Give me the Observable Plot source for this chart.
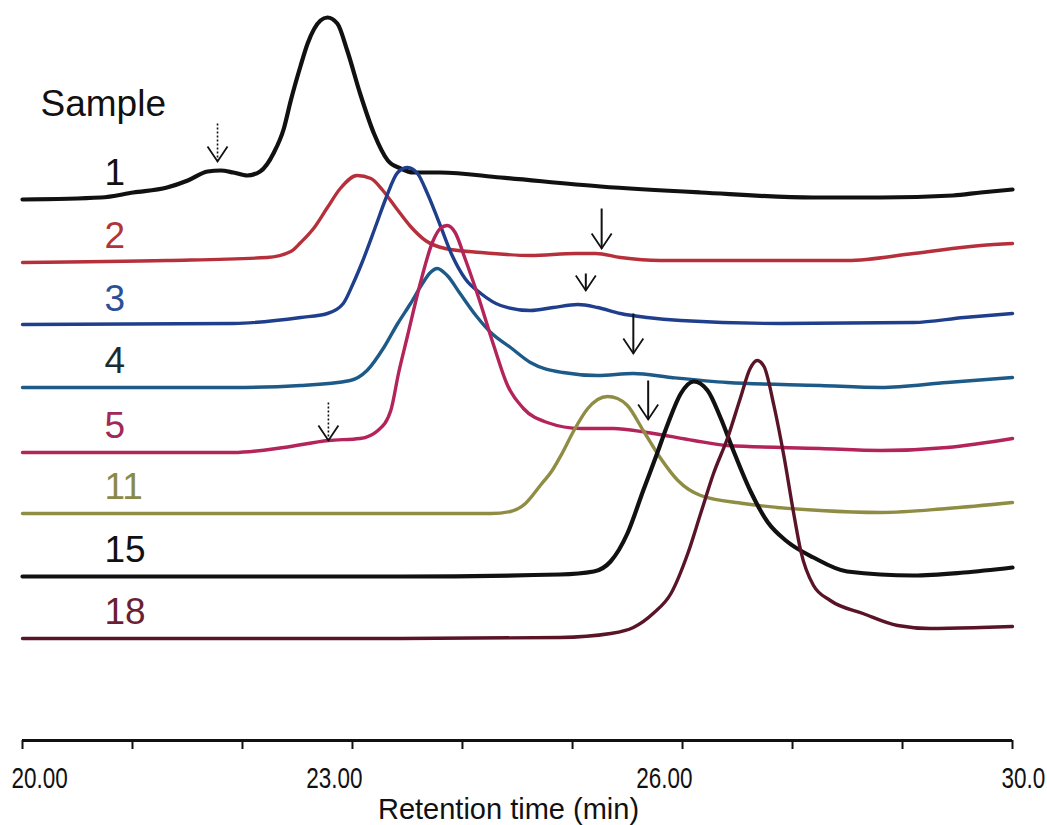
<!DOCTYPE html>
<html>
<head>
<meta charset="utf-8">
<script src="https://cdn.jsdelivr.net/npm/d3@7"></script>
<script src="https://cdn.jsdelivr.net/npm/@observablehq/plot@0.6"></script>
<style>
  body { margin: 0; background: #fff; }
  #chart svg { display: block; }
</style>
</head>
<body>
<div id="chart"></div>
<script>
// ---- Data (retention time in min, detector signal in arbitrary units) ----
const samples = ["1", "2", "3", "4", "5", "11", "15", "18"];
// vertical offset of each chromatogram (stacked display)
const offsets = [541, 478, 415, 353, 288, 227, 164, 102];
const traceColors = ["#111111", "#b5303a", "#1f3e8c", "#1d5a88", "#b3245a", "#8f8d44", "#111111", "#5a1428"];
const labelColors = ["#111111", "#b0353a", "#2c4f9a", "#1a2c33", "#a2285a", "#8a8a48", "#111111", "#6a1f35"];

const trace1 = [[20.00,0],[20.79,2],[21.12,7],[21.46,12],[21.67,19],[21.87,28],[22.00,29],[22.13,27],[22.27,24],[22.40,28],[22.54,47],[22.64,71],[22.71,99],[22.81,134],[22.88,156],[23.01,179],[23.08,182],[23.18,176],[23.28,149],[23.41,106],[23.55,66],[23.69,39],[23.82,31],[23.95,27],[24.22,27],[24.83,22],[25.84,13],[26.85,7],[27.99,2],[28.67,2],[29.40,4],[29.68,7],[30.00,10]];
const trace2 = [[20.00,0],[21.46,2],[22.47,5],[22.71,11],[22.81,20],[22.94,34],[23.08,55],[23.21,74],[23.38,87],[23.52,84],[23.64,72],[23.77,55],[23.92,36],[24.07,22],[24.27,14],[24.63,10],[25.13,7],[25.59,9],[25.79,9],[26.04,5],[26.44,2],[27.66,2],[28.33,2],[29.00,9],[29.68,17],[30.00,19]];
const trace3 = [[20.00,1],[22.13,2],[22.81,8],[23.08,12],[23.24,22],[23.34,42],[23.43,63],[23.57,100],[23.67,127],[23.79,153],[23.89,158],[23.99,152],[24.09,132],[24.22,100],[24.34,70],[24.47,47],[24.63,32],[24.83,20],[25.13,15],[25.36,18],[25.61,21],[25.81,18],[26.04,12],[26.31,8],[26.65,5],[27.66,2],[29.00,3],[29.51,8],[30.00,12]];
const trace4 = [[20.00,0],[22.13,0],[22.81,2],[23.31,7],[23.48,17],[23.65,40],[23.79,64],[23.92,84],[24.04,104],[24.12,115],[24.19,119],[24.29,112],[24.42,94],[24.58,72],[24.73,55],[24.93,40],[25.13,25],[25.46,15],[25.81,12],[26.17,14],[26.55,10],[27.12,5],[28.06,2],[28.67,0],[29.34,5],[30.00,10]];
const trace5 = [[20.00,0],[22.13,0],[22.64,5],[23.09,12],[23.41,14],[23.59,22],[23.72,42],[23.80,80],[23.89,117],[24.02,170],[24.14,210],[24.22,224],[24.29,227],[24.37,220],[24.47,194],[24.61,154],[24.76,107],[24.90,67],[25.06,44],[25.30,30],[25.64,24],[25.97,24],[26.31,20],[26.78,12],[27.12,7],[28.06,4],[28.67,2],[29.34,5],[30.00,14]];
const trace11 = [[20.00,0],[23.82,0],[24.73,0],[24.93,2],[25.08,10],[25.23,28],[25.35,43],[25.45,60],[25.57,83],[25.71,105],[25.81,114],[25.91,117],[26.01,115],[26.11,108],[26.27,83],[26.44,56],[26.62,33],[26.85,18],[27.28,10],[28.06,3],[28.67,1],[29.34,5],[30.00,11]];
const trace15 = [[20.00,0],[23.82,0],[25.43,2],[25.77,5],[25.94,15],[26.11,43],[26.27,86],[26.41,123],[26.52,153],[26.65,183],[26.78,195],[26.92,186],[27.05,159],[27.18,126],[27.35,86],[27.53,54],[27.71,36],[27.99,19],[28.33,5],[29.00,1],[29.51,4],[30.00,9]];
const trace18 = [[20.00,0],[23.82,0],[25.43,1],[25.94,5],[26.17,11],[26.37,25],[26.55,45],[26.72,85],[26.85,125],[26.98,165],[27.12,200],[27.25,240],[27.35,270],[27.42,278],[27.49,272],[27.59,233],[27.69,183],[27.79,125],[27.86,88],[27.99,53],[28.16,38],[28.49,25],[28.84,13],[29.17,10],[29.68,11],[30.00,12]];
const traces = [trace1, trace2, trace3, trace4, trace5, trace11, trace15, trace18];

// arrows marking shoulders: sample, time, tip/tail height above that sample's baseline
const arrowSamples = ["1", "2", "3", "4", "5", "5"];
const arrowTimes   = [21.97, 25.85, 25.69, 26.17, 26.32, 23.09];
const arrowTips    = [38, 14, 35, 34, 33, 12];
const arrowTails   = [76, 54, 52, 74, 72, 50];
const arrowDotted  = [true, false, false, false, false, true];

// x axis
const tickValues = [20, 21.111, 22.222, 23.333, 24.444, 25.556, 26.667, 27.778, 28.889, 30];
const tickLabels = ["20.00", "", "", "23.00", "", "", "26.00", "", "", "30.0"];
const xLabel = "Retention time (min)";
const headerLabel = "Sample";

// ---- Build tables ----
const offsetOf = s => offsets[samples.indexOf(s)];
const arrows = arrowSamples.map((s, i) => ({
  sample: s, t: arrowTimes[i], tip: offsetOf(s) + arrowTips[i], tail: offsetOf(s) + arrowTails[i], dotted: arrowDotted[i]
}));
const labelRows = samples.map((s, i) => ({sample: s, y: offsets[i], color: labelColors[i]}));
const tickLabelRows = tickValues.map((v, i) => ({v, s: tickLabels[i], i})).filter(d => d.s !== "");
const edgeLabels = tickLabelRows.filter(d => d.i === 0 || d.i === tickValues.length - 1);
const midLabels = tickLabelRows.filter(d => !(d.i === 0 || d.i === tickValues.length - 1));

const vHead = {
  draw(context) {
    context.moveTo(-10, -15);
    context.lineTo(0, 0);
    context.lineTo(10, -15);
  }
};

const FONT = "Liberation Sans, Arial, Helvetica, sans-serif";

const lineMarks = traces.map((tr, i) => Plot.line(tr, {
  x: d => d[0],
  y: d => d[1] + offsets[i],
  stroke: traceColors[i],
  strokeWidth: (samples[i] === "1" || samples[i] === "15") ? 4.2 : 3.4,
  curve: "monotone-x",
  strokeLinejoin: "round",
  strokeLinecap: "round"
}));

const svg = Plot.plot({
  width: 1047,
  height: 825,
  marginLeft: 22,
  marginRight: 35,
  marginTop: 0,
  marginBottom: 85,
  style: {fontFamily: FONT, background: "#fff", color: "#111"},
  x: {domain: [20, 30], axis: null},
  y: {domain: [0, 740], axis: null},
  color: {type: "identity"},
  marks: [
    ...lineMarks,
    // arrows
    Plot.link(arrows.filter(d => !d.dotted), {x1: "t", x2: "t", y1: "tail", y2: "tip", stroke: "#111", strokeWidth: 2}),
    Plot.link(arrows.filter(d => d.dotted), {x1: "t", x2: "t", y1: "tail", y2: "tip", stroke: "#111", strokeWidth: 1.6, strokeDasharray: "2,2"}),
    Plot.dot(arrows, {x: "t", y: "tip", symbol: vHead, fill: "none", stroke: "#111", strokeWidth: 1.8}),
    // sample labels
    Plot.text(labelRows, {frameAnchor: "left", y: "y", dx: 82, dy: -15, text: "sample", fill: "color", textAnchor: "start", lineAnchor: "bottom", fontSize: 37, fontFamily: FONT}),
    Plot.text([headerLabel], {frameAnchor: "top-left", dx: 18, dy: 115, textAnchor: "start", lineAnchor: "bottom", fontSize: 37, fill: "#111", fontFamily: FONT}),
    // x axis
    Plot.ruleY([0], {stroke: "#111", strokeWidth: 3}),
    Plot.ruleX(tickValues, {y1: 0, y2: 0, insetBottom: -9, stroke: "#111", strokeWidth: 2}),
    Plot.text(edgeLabels, {x: "v", text: "s", frameAnchor: "bottom", dy: 47, dx: -11, textAnchor: "start", lineAnchor: "bottom", fontSize: 30, fill: "#111", fontFamily: FONT}),
    Plot.text(midLabels, {x: "v", text: "s", frameAnchor: "bottom", dy: 47, dx: 10, textAnchor: "end", lineAnchor: "bottom", fontSize: 30, fill: "#111", fontFamily: FONT}),
    Plot.text([xLabel], {frameAnchor: "bottom", dy: 78, dx: -9, textAnchor: "middle", lineAnchor: "bottom", fontSize: 29, fill: "#111", fontFamily: FONT})
  ]
});

// tick labels in the reference use a condensed face: compress horizontally
const tickSet = new Set(tickLabels.filter(s => s !== ""));
svg.querySelectorAll("text").forEach(t => {
  if (!tickSet.has(t.textContent.trim())) return;
  const hasXY = t.hasAttribute("x") || t.hasAttribute("y");
  if (hasXY) {
    const x = +t.getAttribute("x") || 0, y = +t.getAttribute("y") || 0;
    t.removeAttribute("x"); t.removeAttribute("y");
    const prev = t.getAttribute("transform") || "";
    t.setAttribute("transform", `${prev} translate(${x},${y}) scale(0.75,1)`);
  } else {
    t.setAttribute("transform", (t.getAttribute("transform") || "") + " scale(0.75,1)");
  }
});

document.getElementById("chart").append(svg);
</script>
</body>
</html>
